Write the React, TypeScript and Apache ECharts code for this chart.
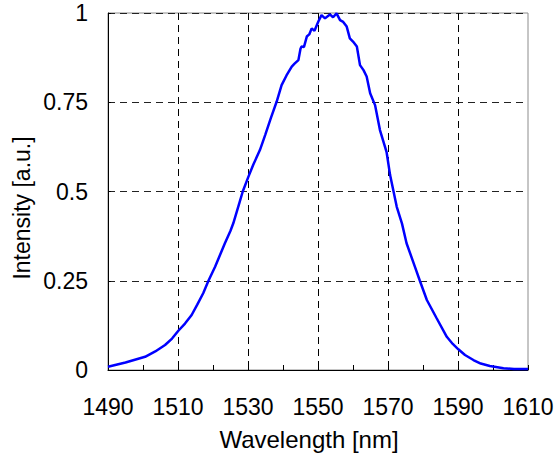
import React, { useEffect, useRef } from "react";
import * as echarts from "echarts";

const wavelengths = [
  1490, 1495, 1500.6, 1503.5, 1506.3, 1508.3, 1510.1, 1512, 1513.9, 1515.5, 1517.2, 1518.7, 1520.6, 1522, 1523.4,
  1525, 1525.8, 1527.5, 1528.5, 1530.1, 1531.5, 1533.4, 1534.9, 1536.5, 1538.2, 1539.6, 1541, 1542.5,
  1543.3, 1544.4, 1545, 1545.3, 1546, 1546.8, 1547.5, 1548.2, 1549, 1550.1, 1551, 1552, 1553.4, 1554.3,
  1555.3, 1556.3, 1557.2, 1558.2, 1559.1, 1560, 1561.1, 1562, 1563, 1563.9, 1564.9, 1566.3, 1567.7,
  1569.6, 1570.6, 1572.5, 1574, 1575.3, 1577.7, 1579.1, 1581.1, 1583.9, 1586.8, 1588.5, 1590.1, 1592, 1594.4,
  1596.5, 1599.1, 1603, 1606, 1610,
];
const intensity = [
  0.009, 0.021, 0.037, 0.052, 0.07, 0.088, 0.11, 0.13, 0.154, 0.183, 0.215, 0.25, 0.289, 0.322, 0.355,
  0.39, 0.411, 0.467, 0.5, 0.541, 0.575, 0.616, 0.658, 0.705, 0.752, 0.798, 0.825, 0.85,
  0.858, 0.868, 0.9, 0.906, 0.905, 0.934, 0.94, 0.957, 0.95, 0.976, 0.994, 0.985, 0.996, 0.988,
  0.999, 0.98, 0.975, 0.962, 0.929, 0.92, 0.906, 0.854, 0.84, 0.822, 0.775, 0.742, 0.672,
  0.61, 0.546, 0.457, 0.41, 0.355, 0.289, 0.25, 0.196, 0.145, 0.093, 0.073, 0.058, 0.042, 0.028,
  0.018, 0.011, 0.005, 0.003, 0.003,
];
const yTickLabels: Record<string, string> = { "0": "0", "0.25": "0.25", "0.5": "0.5", "0.75": "0.75", "1": "1" };
const xTitle = "Wavelength [nm]";
const yTitle = "Intensity [a.u.]";

const FONT = "'Liberation Sans', Arial, sans-serif";

export default function App() {
  const ref = useRef<HTMLDivElement>(null);
  useEffect(() => {
    if (!ref.current) return;
    const chart = echarts.init(ref.current, undefined, { renderer: "svg" });
    const data = wavelengths.map((w, i) => [w, intensity[i]]);
    chart.setOption({
      animation: false,
      backgroundColor: "#fff",
      grid: { left: 108, top: 13, right: 32, bottom: 87, show: true, borderColor: "#8c8c8c", borderWidth: 1 },
      xAxis: {
        type: "value",
        min: 1490,
        max: 1610,
        interval: 20,
        axisLine: { show: true, lineStyle: { color: "#000", width: 1 } },
        axisTick: { show: true, inside: true, length: 5, lineStyle: { color: "#000" } },
        minorTick: { show: true, splitNumber: 2, length: 5, lineStyle: { color: "#000" } },
        axisLabel: {
          color: "#000",
          fontSize: 23,
          fontFamily: FONT,
          margin: 25,
          formatter: (v: number) => String(v),
        },
        splitLine: {
          show: true,
          showMinLine: false,
          showMaxLine: false,
          lineStyle: { color: "#000", type: [7, 5], width: 1 },
        },
      },
      yAxis: {
        type: "value",
        min: 0,
        max: 1,
        interval: 0.25,
        axisLine: { show: true, lineStyle: { color: "#000", width: 1 } },
        axisTick: { show: true, inside: true, length: 3, lineStyle: { color: "#000" } },
        axisLabel: {
          color: "#000",
          fontSize: 23,
          fontFamily: FONT,
          margin: 20,
          formatter: (v: number) => yTickLabels[String(v)] ?? String(v),
        },
        splitLine: {
          show: true,
          showMinLine: false,
          lineStyle: { color: "#222", type: [7, 5], width: 1 },
        },
      },
      graphic: [
        {
          type: "text",
          x: 309,
          y: 439,
          style: { text: xTitle, fill: "#000", fontSize: 24, fontFamily: FONT, align: "center", verticalAlign: "middle" },
        },
        {
          type: "text",
          x: 22,
          y: 208,
          rotation: Math.PI / 2,
          style: { text: yTitle, fill: "#000", fontSize: 23, fontFamily: FONT, align: "center", verticalAlign: "middle" },
        },
      ],
      series: [
        {
          type: "line",
          data,
          showSymbol: false,
          symbol: "none",
          lineStyle: { color: "#0000ff", width: 2.5 },
        },
      ],
    });
    return () => chart.dispose();
  }, []);
  return <div ref={ref} style={{ position: "fixed", left: 0, top: 0, width: 560, height: 457 }} />;
}
